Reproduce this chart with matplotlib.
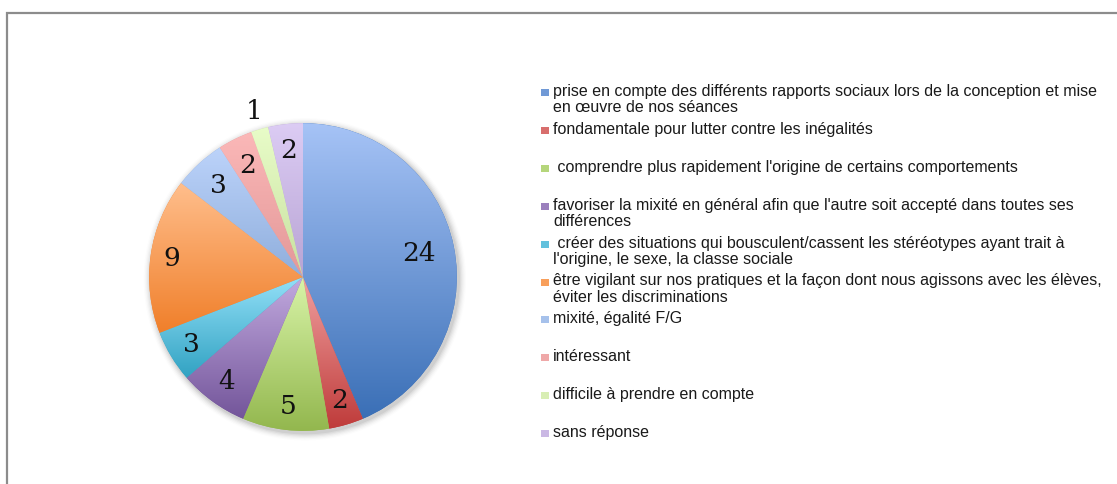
import numpy as np
import matplotlib
matplotlib.use('Agg')
import matplotlib.pyplot as plt
from matplotlib.colors import to_rgb
from matplotlib.patches import Rectangle, Circle

# data
labels = [
    "prise en compte des différents rapports sociaux lors de la conception et mise\nen œuvre de nos séances",
    "fondamentale pour lutter contre les inégalités",
    " comprendre plus rapidement l'origine de certains comportements",
    "favoriser la mixité en général afin que l'autre soit accepté dans toutes ses\ndifférences",
    " créer des situations qui bousculent/cassent les stéréotypes ayant trait à\nl'origine, le sexe, la classe sociale",
    "être vigilant sur nos pratiques et la façon dont nous agissons avec les élèves,\néviter les discriminations",
    "mixité, égalité F/G",
    "intéressant",
    "difficile à prendre en compte",
    "sans réponse",
]
values = [24, 2, 5, 4, 3, 9, 3, 2, 1, 2]

# gradient colours per slice (top, bottom)
tops = ['#A6C3F6', '#F0A0A0', '#D8F4A8', '#C2AADF', '#93E0F8',
        '#FFBE8C', '#BCD3FA', '#FBB8B8', '#E8FCC8', '#DCCCF4']
bottoms = ['#3A6FB6', '#BF3B3A', '#93B74E', '#73559A', '#31A2C2',
           '#F07F2A', '#8FAEDC', '#E39898', '#C8E0A0', '#B8A4D4']
# where each number sits (fraction of radius)
label_r = [0.77, 0.84, 0.85, 0.84, 0.85, 0.86, 0.81, 0.81, 1.12, 0.83]

W, H = 1117, 484
fig = plt.figure(figsize=(W / 100, H / 100), dpi=100)

# grey frame
fig.patches.append(Rectangle((7 / W, -0.1), 1.2, (H - 13) / H + 0.1, transform=fig.transFigure,
                             fill=False, edgecolor='#8c8c8c', linewidth=1.6))

cx, cy, half = 303, H - 277, 200
ax = fig.add_axes([(cx - half) / W, (cy - half) / H, 2 * half / W, 2 * half / H])
ax.set_xlim(-1.3, 1.3)
ax.set_ylim(-1.3, 1.3)
ax.set_aspect('equal')
ax.axis('off')

# soft shadow
for i, a in enumerate(np.linspace(0.05, 0.012, 6)):
    ax.add_patch(Circle((0.012, -0.015), 1.0 + 0.008 * (i + 1), color='black', alpha=a,
                        linewidth=0, zorder=0))

wedges, _ = ax.pie(values, startangle=90, counterclock=False, radius=1.0,
                   colors=bottoms, wedgeprops=dict(linewidth=0))

for w, c1, c2 in zip(wedges, tops, bottoms):
    w.set_zorder(1)
    ext = w.get_path().get_extents(w.get_patch_transform())
    t = np.linspace(0, 1, 256)[:, None]
    a, b = np.array(to_rgb(c1)), np.array(to_rgb(c2))
    img = (a * (1 - t) + b * t)[:, None, :]
    im = ax.imshow(img, extent=[ext.x0, ext.x1, ext.y0, ext.y1], origin='upper',
                   aspect='auto', zorder=2, interpolation='bilinear')
    im.set_clip_path(w)

ax.set_xlim(-1.3, 1.3)
ax.set_ylim(-1.3, 1.3)

for w, v, r in zip(wedges, values, label_r):
    mid = np.deg2rad((w.theta1 + w.theta2) / 2)
    ax.text(r * np.cos(mid), r * np.sin(mid), str(v), ha='center', va='center',
            fontsize=19, family='DejaVu Serif', color='#111111', zorder=5)

# legend
y0, step, line_h = 96, 37.9, 16.5
for i, (lab, c1, c2) in enumerate(zip(labels, tops, bottoms)):
    yb = y0 + step * i
    mid = tuple((np.array(to_rgb(c1)) + np.array(to_rgb(c2))) / 2)
    fig.patches.append(Rectangle((541 / W, (H - yb) / H), 8 / W, 7 / H,
                                 transform=fig.transFigure, facecolor=mid, edgecolor='none'))
    for j, line in enumerate(lab.split('\n')):
        fig.text(553 / W, (H - yb - j * line_h) / H, line, ha='left', va='baseline',
                 fontsize=11.5, family='Liberation Sans', color='#1a1a1a')

fig.savefig('out.png', dpi=100)
